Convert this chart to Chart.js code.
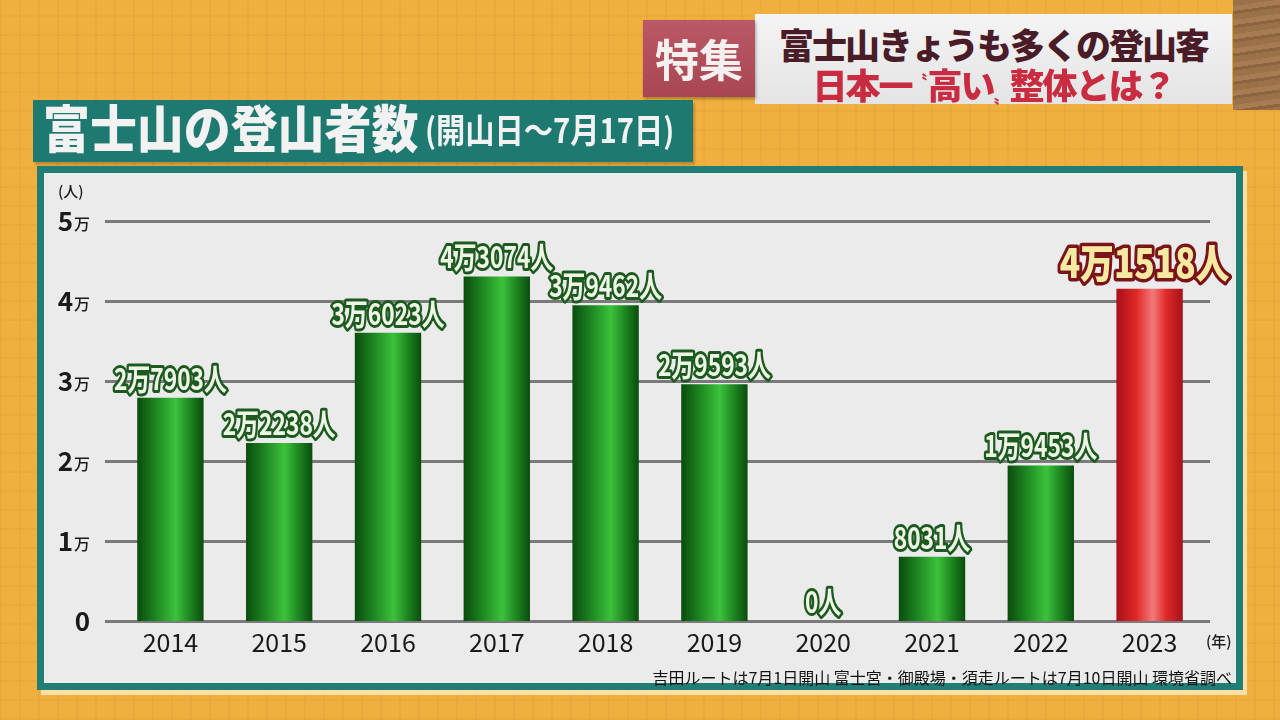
<!DOCTYPE html>
<html>
<head>
<meta charset="utf-8">
<script src="https://cdn.jsdelivr.net/npm/chart.js@4.4.1/dist/chart.umd.min.js"></script>
<style>
html, body { margin: 0; padding: 0; }
body {
    width: 1280px; height: 720px; position: relative; overflow: hidden;
    font-family: "Noto Sans CJK JP", sans-serif;
    background-color: #f0b040;
    background-image:
        repeating-linear-gradient(90deg, rgba(205,125,25,0.12) 0 2px, transparent 2px 19px),
        repeating-linear-gradient(0deg, rgba(205,125,25,0.12) 0 2px, transparent 2px 19px);
}
.wood {
    position: absolute; left: 1233px; top: 0; width: 47px; height: 110px;
    background: repeating-linear-gradient(172deg, #9b7148 0 6px, #a87c52 6px 11px, #8c6440 11px 14px);
}
.redbox {
    position: absolute; left: 643px; top: 20px; width: 112px; height: 77px;
    background: linear-gradient(180deg, #bb5865, #a84654);
    color: #f4f0f0; font-weight: 700; font-size: 44px; line-height: 77px; text-align: center;
    box-shadow: 1px 2px 3px rgba(0,0,0,0.3); z-index: 4;
}
.whitebox {
    position: absolute; left: 755px; top: 14px; width: 477px; height: 90px;
    background: linear-gradient(180deg, #f4f4f4, #e4e4e4); z-index: 3;
}
.line1, .line2 {
    position: absolute; left: 0; width: 477px; text-align: center; font-weight: 900; white-space: nowrap;
}
.line1 { top: 4px; font-size: 35px; color: #4a1c28; letter-spacing: -2px; }
.line2 { top: 44px; font-size: 35px; color: #c92c40; letter-spacing: -2px; }
.line2 .q1 { font-size: 16px; position: relative; top: -12px; letter-spacing: 0; }
.line2 .q2 { font-size: 16px; position: relative; top: 4px; letter-spacing: 0; }
.title {
    position: absolute; left: 33px; top: 100px; width: 660px; height: 62px;
    background: #1e7a70; z-index: 3; color: #f2f2f2; white-space: nowrap;
    box-shadow: 2px 3px 2px rgba(0,0,0,0.2);
}
.title .big { position: absolute; left: 10px; top: -11px; font-size: 51px; font-weight: 900; transform: scaleX(0.92); transform-origin: left; }
.title .small { position: absolute; left: 392px; top: 4px; font-size: 34px; font-weight: 700; transform: scaleX(0.86); transform-origin: left; }
.panel {
    position: absolute; left: 37px; top: 166px; width: 1192px; height: 510px;
    background: #ebebeb; border: 7px solid #1f7e76; z-index: 1;
    box-shadow: 4px 5px 0 rgba(255,235,190,0.8);
}
.note {
    position: absolute; right: 48px; top: 665px; font-size: 16px; color: #111; z-index: 3; white-space: nowrap;
}
canvas#chart { position: absolute; left: 0; top: 0; z-index: 2; }
</style>
</head>
<body>
<div class="wood"></div>
<div class="redbox">特集</div>
<div class="whitebox">
    <div class="line1">富士山きょうも多くの登山客</div>
    <div class="line2">日本一<span class="q1">〝</span>高い<span class="q2">〟</span>整体とは？</div>
</div>
<div class="title"><span class="big">富士山の登山者数</span><span class="small">(開山日〜7月17日)</span></div>
<div class="panel"></div>
<div class="note">吉田ルートは7月1日開山 富士宮・御殿場・須走ルートは7月10日開山 環境省調べ</div>
<canvas id="chart" width="1280" height="720"></canvas>

<script>
// 富士山の登山者数（開山日〜7月17日）
const years = ['2014', '2015', '2016', '2017', '2018', '2019', '2020', '2021', '2022', '2023'];
const climbers = [27903, 22238, 36023, 43074, 39462, 29593, 0, 8031, 19453, 41518];
const yTicks = [0, 10000, 20000, 30000, 40000, 50000];
const yTickNums = ['0', '1', '2', '3', '4', '5'];
const highlightIndex = 9; // 2023 は赤

const barPct = 0.61;

function fmtLabel(v) {
    const man = Math.floor(v / 10000);
    const rest = v % 10000;
    if (man > 0) return man + '万' + String(rest).padStart(4, '0') + '人';
    return rest + '人';
}

function barColor(ctx) {
    const chart = ctx.chart;
    const hi = ctx.dataIndex === highlightIndex;
    const xs = chart.scales.x;
    if (!chart.chartArea || !xs) return hi ? '#e02a2a' : '#2a9a2a';
    const cx = xs.getPixelForValue(ctx.dataIndex);
    const half = (xs.width / years.length) * barPct / 2;
    const g = chart.ctx.createLinearGradient(cx - half, 0, cx + half, 0);
    if (hi) {
        g.addColorStop(0, '#a8101a');
        g.addColorStop(0.3, '#e02828');
        g.addColorStop(0.55, '#f27a7a');
        g.addColorStop(0.75, '#e02a2a');
        g.addColorStop(1, '#a8101a');
    } else {
        g.addColorStop(0, '#0a4c0e');
        g.addColorStop(0.3, '#1e8a22');
        g.addColorStop(0.58, '#3cc23c');
        g.addColorStop(0.8, '#1c8420');
        g.addColorStop(1, '#0a4c0e');
    }
    return g;
}

// 目盛り線（左右に少しはみ出す）
const gridLines = {
    id: 'gridLines',
    beforeDatasetsDraw(chart) {
        const c = chart.ctx, ys = chart.scales.y, area = chart.chartArea;
        c.save();
        c.strokeStyle = '#7a7a7a';
        c.lineWidth = 3;
        yTicks.forEach(v => {
            const y = Math.round(ys.getPixelForValue(v)) + 0.5;
            c.beginPath();
            c.moveTo(area.left - 11, y);
            c.lineTo(area.right + 6, y);
            c.stroke();
        });
        c.restore();
    }
};

// Y軸ラベル「5万」など
const yLabels = {
    id: 'yLabels',
    afterDraw(chart) {
        const c = chart.ctx, ys = chart.scales.y, area = chart.chartArea;
        const right = area.left - 26;
        c.save();
        c.fillStyle = '#1a1a1a';
        c.textBaseline = 'middle';
        yTicks.forEach((v, i) => {
            const y = ys.getPixelForValue(v);
            let x = right;
            if (v > 0) {
                c.font = '500 16px "Noto Sans CJK JP"';
                c.textAlign = 'right';
                c.fillText('万', x, y + 3);
                x -= c.measureText('万').width + 1;
            }
            c.font = '700 26px "Noto Sans CJK JP"';
            c.textAlign = 'right';
            c.fillText(yTickNums[i], x, y);
        });
        // 単位
        c.font = '500 15px "Noto Sans CJK JP"';
        c.textAlign = 'left';
        c.fillText('(人)', area.left - 58, ys.getPixelForValue(50000) - 30);
        // (年)
        c.fillText('(年)', area.right + 2, area.bottom + 20);
        c.restore();
    }
};

// 棒の上の数値
const barLabels = {
    id: 'barLabels',
    afterDatasetsDraw(chart) {
        const c = chart.ctx;
        const meta = chart.getDatasetMeta(0);
        c.save();
        c.textAlign = 'center';
        c.textBaseline = 'alphabetic';
        c.lineJoin = 'round';
        meta.data.forEach((el, i) => {
            const hi = i === highlightIndex;
            const txt = fmtLabel(climbers[i]);
            c.save();
            if (hi) {
                c.translate(el.x - 5, el.y - 11);
                c.scale(0.84, 1);
                c.font = '900 40px "Noto Sans CJK JP"';
                c.lineWidth = 7;
                c.strokeStyle = '#7a1418';
                c.fillStyle = '#f6e9a2';
            } else {
                c.translate(el.x, el.y - 8);
                c.scale(0.76, 1);
                c.font = '700 30px "Noto Sans CJK JP"';
                c.lineWidth = 6;
                c.strokeStyle = '#1d5a20';
                c.fillStyle = '#eef5e6';
            }
            c.strokeText(txt, 0, 0);
            c.fillText(txt, 0, 0);
            c.restore();
        });
        c.restore();
    }
};

new Chart(document.getElementById('chart'), {
    type: 'bar',
    data: {
        labels: years,
        datasets: [{
            data: climbers,
            backgroundColor: barColor,
            borderWidth: 0,
            barPercentage: barPct,
            categoryPercentage: 1
        }]
    },
    options: {
        responsive: false,
        animation: false,
        layout: { padding: { left: 56, right: 76, top: 221, bottom: 59 } },
        plugins: { legend: { display: false }, tooltip: { enabled: false } },
        scales: {
            x: {
                offset: true,
                grid: { display: false, drawTicks: false },
                border: { display: false },
                ticks: { color: '#1a1a1a', font: { family: '"Noto Sans CJK JP"', size: 25 }, padding: 6 },
                afterFit: s => { s.height = 40; }
            },
            y: {
                min: 0, max: 50000,
                ticks: { display: false, stepSize: 10000 },
                grid: { display: false },
                border: { display: false },
                afterFit: s => { s.width = 60; }
            }
        }
    },
    plugins: [gridLines, yLabels, barLabels]
});
</script>
</body>
</html>
